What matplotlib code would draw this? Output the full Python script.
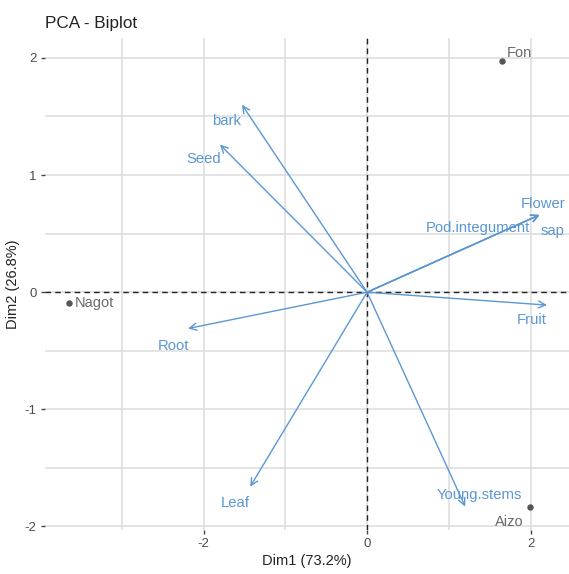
import matplotlib
matplotlib.use("Agg")
import matplotlib.pyplot as plt
import numpy as np

plt.rcParams['font.family'] = ['Liberation Sans', 'DejaVu Sans']

# Individuals (scores on Dim1 / Dim2)
ind_names = ["Fon", "Nagot", "Aizo"]
ind_dim1 = [1.65, -3.65, 1.99]
ind_dim2 = [1.97, -0.09, -1.83]

# Variables (arrow tips on Dim1 / Dim2)
var_names = ["bark", "Seed", "Root", "Flower", "Pod.integument", "sap",
             "Fruit", "Leaf", "Young.stems"]
var_dim1 = [-1.53, -1.80, -2.19, 2.11, 2.11, 2.11, 2.20, -1.43, 1.20]
var_dim2 = [1.60, 1.26, -0.31, 0.66, 0.66, 0.66, -0.11, -1.66, -1.83]

x_ticks = [-2, 0, 2]
y_ticks = [-2, -1, 0, 1, 2]

# Repelled label placement (offsets in data units from each mark)
var_label_offsets = {
    "bark": (-0.19, -0.14), "Seed": (-0.20, -0.12), "Root": (-0.18, -0.15),
    "Flower": (0.04, 0.09), "Pod.integument": (-0.75, -0.11),
    "sap": (0.16, -0.14), "Fruit": (-0.19, -0.13), "Leaf": (-0.18, -0.14),
    "Young.stems": (0.17, 0.10),
}
ind_label_offsets = {"Fon": (0.06, 0.07, "left"), "Nagot": (0.07, 0.0, "left"),
                     "Aizo": (-0.08, -0.13, "right")}

arrow_col = "#5B97D3"
ind_col = "#555555"
ind_text_col = "#6a6a6a"

fig = plt.figure(figsize=(5.69, 5.74), dpi=100)
ax = fig.add_axes([45/569, 44/574, 524/569, 492/574])

ax.set_xlim(-3.94, 2.47)
ax.set_ylim(-2.03, 2.17)

# grid
for gx in np.arange(-3, 3, 1):
    ax.axvline(gx, color="#dcdcdc", lw=1.1, zorder=0)
for gy in np.arange(-2, 2.01, 0.5):
    ax.axhline(gy, color="#dcdcdc", lw=1.1, zorder=0)

ax.axhline(0, color="#222222", lw=1.0, ls=(0, (4, 3)), zorder=1)
ax.axvline(0, color="#222222", lw=1.0, ls=(0, (4, 3)), zorder=1)

for s in ax.spines.values():
    s.set_visible(False)

ax.set_xticks(x_ticks)
ax.set_xticklabels([str(t) for t in x_ticks])
ax.set_yticks(y_ticks)
ax.set_yticklabels([str(t) for t in y_ticks])
ax.tick_params(axis="both", colors="#444444", labelsize=9.5, length=3, width=1,
               labelcolor="#4d4d4d", pad=3)

ax.set_xlabel("Dim1 (73.2%)", fontsize=10.5, color="#222222", labelpad=3)
ax.set_ylabel("Dim2 (26.8%)", fontsize=10.5, color="#222222", labelpad=3)
ax.set_title("PCA - Biplot", fontsize=12.3, color="#222222", loc="left",
             x=0.0, pad=7)

# variable arrows
for name, vx, vy in zip(var_names, var_dim1, var_dim2):
    ax.annotate("", xy=(vx, vy), xytext=(0, 0),
                arrowprops=dict(arrowstyle="->,head_length=0.5,head_width=0.25",
                                color=arrow_col, lw=1.0, shrinkA=0, shrinkB=0),
                zorder=3)
    dx, dy = var_label_offsets[name]
    ax.text(vx + dx, vy + dy, name, color=arrow_col, fontsize=10.7,
            ha="center", va="center", zorder=4)

# individuals
ax.scatter(ind_dim1, ind_dim2, s=13, color=ind_col, zorder=5)
for name, px, py in zip(ind_names, ind_dim1, ind_dim2):
    dx, dy, ha = ind_label_offsets[name]
    ax.text(px + dx, py + dy, name, color=ind_text_col, fontsize=10.5,
            ha=ha, va="center", zorder=5)

fig.savefig("out.png", dpi=100)
